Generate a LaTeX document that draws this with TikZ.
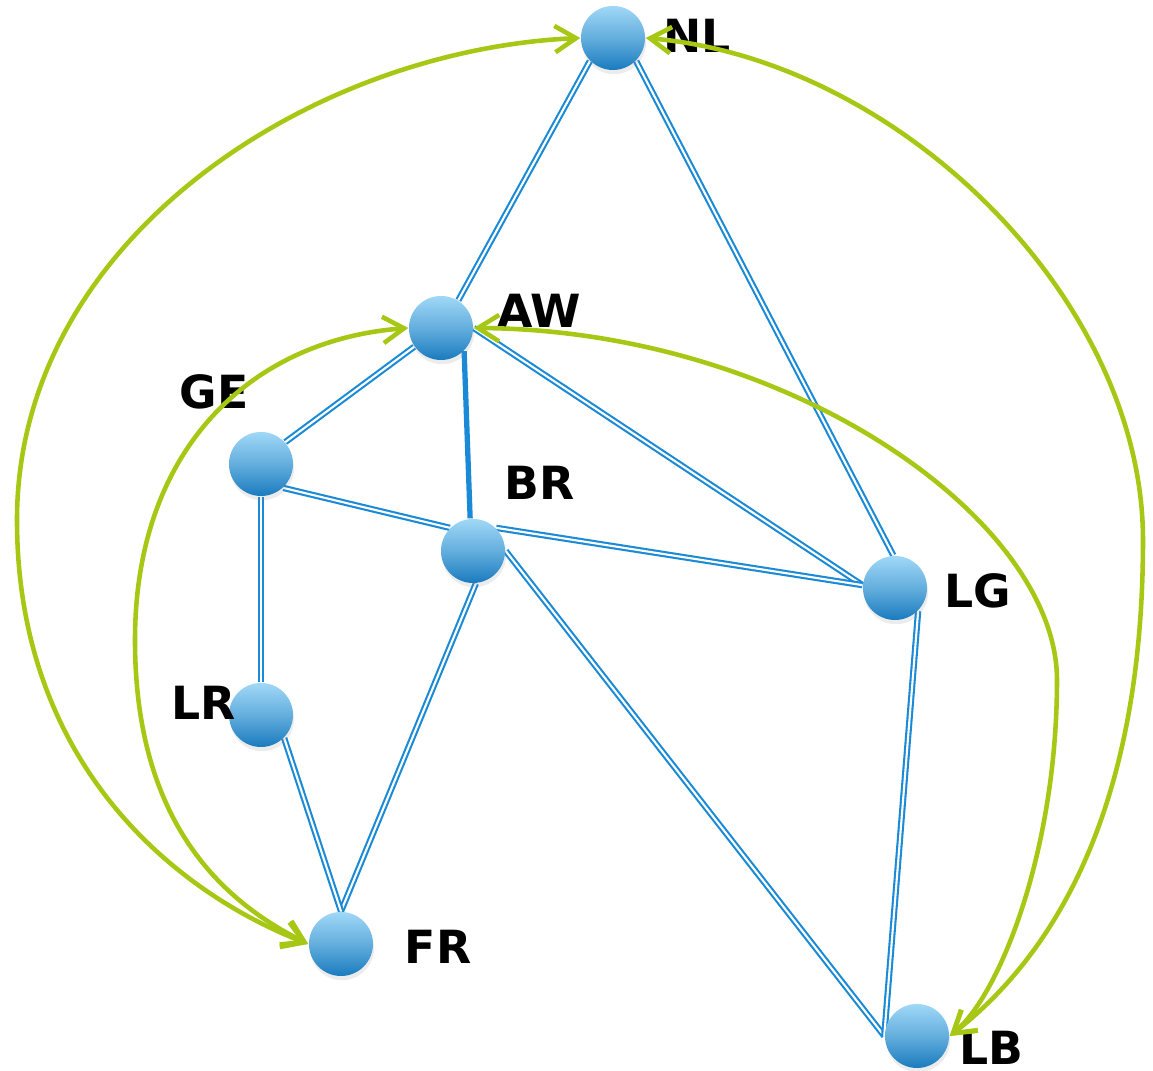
\documentclass[tikz,border=0pt]{standalone}
\usepackage{fontspec}
\setsansfont{DejaVu Sans}
\usetikzlibrary{arrows.meta,shadows,backgrounds}
\definecolor{ballTop}{HTML}{A0D8F7}
\definecolor{ballBot}{HTML}{1A7BBE}
\definecolor{linkblue}{HTML}{1A8AD6}
\definecolor{flowgreen}{HTML}{A6C814}

\tikzset{
  town/.style={circle,minimum size=0.64cm,inner sep=0pt,
    top color=ballTop,bottom color=ballBot,middle color=ballTop!55!ballBot,
    drop shadow={shadow xshift=0.3pt,shadow yshift=-1.2pt,opacity=0.15}},
  tag/.style={font=\sffamily\bfseries\fontsize{13}{13}\selectfont,inner sep=0pt},
  link/.style={draw=linkblue,line width=0.6pt,double=white,double distance=0.6pt},
  flow/.style={draw=flowgreen,line width=1.3pt,line cap=round,
    {Straight Barb[length=6pt,width=7.5pt]}-{Straight Barb[length=6pt,width=7.5pt]}}
}

\begin{document}
\begin{tikzpicture}[x=0.01cm,y=-0.01cm]
  \useasboundingbox (0,0) rectangle (1153,1071);
  % towns
  \node[town] (NL) at (613,38) {};
  \node[town] (AW) at (441,328) {};
  \node[town] (GE) at (261,464) {};
  \node[town] (BR) at (473,551) {};
  \node[town] (LG) at (895,588) {};
  \node[town] (LR) at (261,715) {};
  \node[town] (FR) at (341,944) {};
  \node[town] (LB) at (917,1036) {};
  % road links under the towns
  \begin{scope}[on background layer]
    \draw[link] (NL.225) -- (AW.58);
    \draw[link] (NL.-45) -- (LG.93);
    \draw[link] (AW.215) -- (GE.42);
    \draw[draw=linkblue,line width=1.5pt] (AW.-45) -- (BR.95);
    \draw[link] (AW.east) -- (LG.175);
    \draw[link] (GE.-47) -- (BR.135);
    \draw[link] (GE.south) -- (LR.north);
    \draw[link] (BR.45) -- (LG.175);
    \draw[link] (BR.-85) -- (FR.north);
    \draw[link] (BR.east) -- (LB.west);
    \draw[link] (LR.-45) -- (FR.north);
    \draw[link] (LG.-45) -- (LB.west);
  \end{scope}
  % names
  \node[tag] (NLt) at (697,36) {NL};
  \node[tag] (AWt) at (539,311) {AW};
  \node[tag] (GEt) at (214,392) {GE};
  \node[tag] (BRt) at (540,483) {BR};
  \node[tag] (LGt) at (978,591) {LG};
  \node[tag] (LRt) at (204,703) {LR};
  \node[tag] (FRt) at (438,947) {FR};
  \node[tag] (LBt) at (991,1048) {LB};
  % two-way flows
  \draw[flow] (NL.west) .. controls (310,50) and (17,240) .. (17,520)
    .. controls (17,760) and (170,890) .. (FR.west);
  \draw[flow] (NL.east) .. controls (900,60) and (1143,300) .. (1143,540)
    .. controls (1143,800) and (1060,950) .. (LB.east);
  \draw[flow] (AW.west) .. controls (250,340) and (135,450) .. (135,640)
    .. controls (135,820) and (220,900) .. (FR.west);
  \draw[flow] (AW.east) .. controls (790,330) and (1057,520) .. (1057,680)
    .. controls (1057,850) and (1000,995) .. (LB.east);
\end{tikzpicture}
\end{document}
